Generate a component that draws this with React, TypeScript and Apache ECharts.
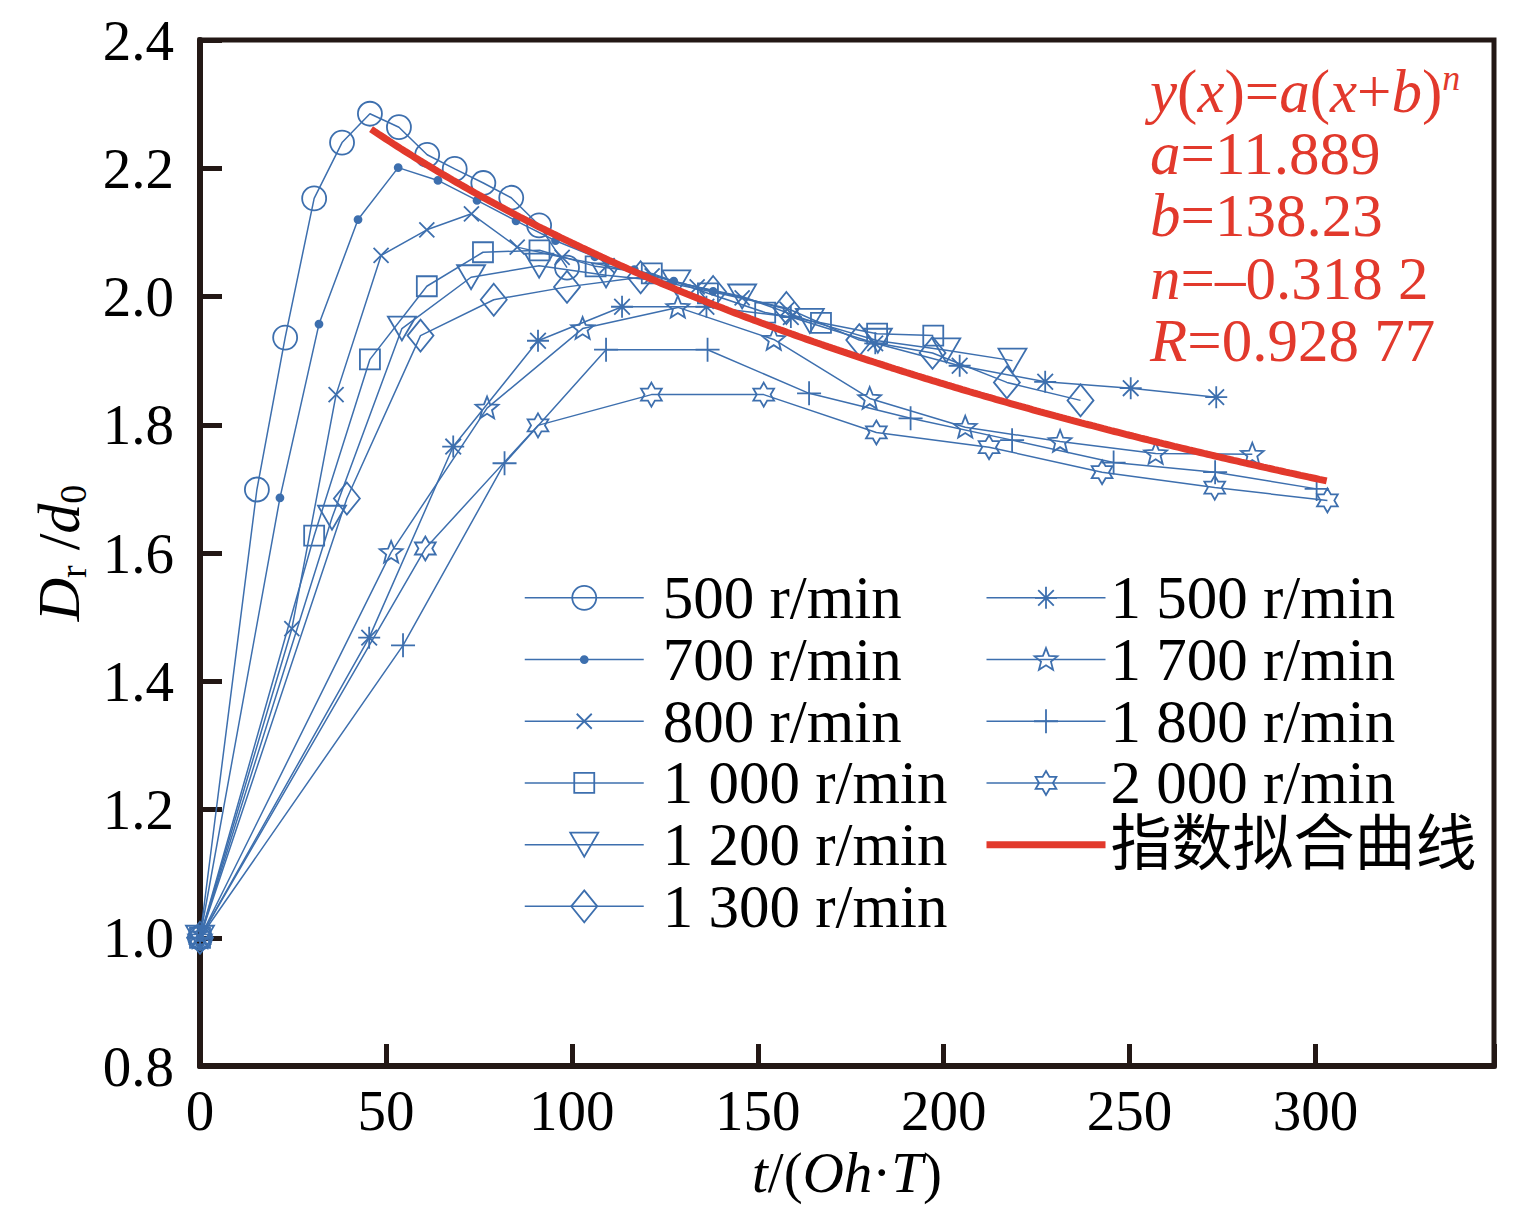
import React, { useEffect, useRef } from "react";
import * as echarts from "echarts";

// Measured droplet spread ratio D_r/d0 against dimensionless time t/(Oh·T)
const x500 = [0, 15.3, 22.9, 30.7, 38.2, 45.7, 53.5, 61.1, 68.5, 76.2, 83.7, 91.2, 98.7];
const y500 = [1.0, 1.699, 1.936, 2.153, 2.24, 2.285, 2.264, 2.221, 2.199, 2.177, 2.154, 2.111, 2.045];

const x700 = [0, 21.5, 32.0, 42.5, 53.3, 64.0, 74.5, 85.0, 95.6, 106.2, 116.8, 127.4, 138.0];
const y700 = [1.0, 1.686, 1.957, 2.12, 2.201, 2.181, 2.15, 2.118, 2.087, 2.062, 2.042, 2.024, 2.008];

const x800 = [0, 24.7, 36.6, 48.7, 61.0, 73.0, 85.3, 97.4, 109.5, 121.6, 133.7, 145.8, 157.9];
const y800 = [1.0, 1.482, 1.847, 2.064, 2.104, 2.129, 2.077, 2.061, 2.048, 2.032, 2.015, 1.998, 1.98];

const x1000 = [0, 30.7, 45.7, 61.0, 76.1, 91.3, 106.4, 121.5, 136.6, 152.0, 167.0, 182.1, 197.2];
const y1000 = [1.0, 1.627, 1.902, 2.016, 2.069, 2.072, 2.047, 2.036, 2.005, 1.975, 1.959, 1.942, 1.939];

const x1200 = [0, 35.5, 54.3, 72.9, 91.2, 109.2, 128.1, 145.8, 164.0, 182.3, 200.7, 218.5];
const y1200 = [1.0, 1.655, 1.95, 2.03, 2.048, 2.033, 2.022, 2.0, 1.962, 1.931, 1.916, 1.9];

const x1300 = [0, 39.5, 59.3, 79.0, 98.7, 118.5, 138.0, 157.7, 177.3, 197.0, 217.0, 236.8];
const y1300 = [1.0, 1.685, 1.939, 1.995, 2.015, 2.03, 2.007, 1.982, 1.932, 1.912, 1.866, 1.838];

const x1500 = [0, 45.5, 68.1, 90.9, 113.5, 136.2, 158.9, 181.6, 204.3, 227.3, 250.3, 273.3];
const y1500 = [1.0, 1.468, 1.766, 1.931, 1.984, 1.984, 1.968, 1.927, 1.892, 1.867, 1.857, 1.843];

const x1700 = [0, 51.4, 77.2, 102.9, 128.5, 154.3, 180.1, 205.8, 231.3, 257.0, 283.0];
const y1700 = [1.0, 1.601, 1.826, 1.95, 1.983, 1.933, 1.841, 1.796, 1.774, 1.755, 1.754];

const x1800 = [0, 54.6, 81.9, 109.2, 136.5, 163.8, 191.1, 218.4, 245.7, 273.0, 300.3];
const y1800 = [1.0, 1.456, 1.74, 1.917, 1.917, 1.849, 1.81, 1.776, 1.741, 1.726, 1.7];

const x2000 = [0, 60.6, 90.9, 121.4, 151.6, 181.9, 212.2, 242.6, 272.9, 303.2];
const y2000 = [1.0, 1.607, 1.799, 1.847, 1.847, 1.788, 1.765, 1.726, 1.702, 1.682];

const seriesNames = [
  "500 r/min", "700 r/min", "800 r/min", "1 000 r/min", "1 200 r/min", "1 300 r/min",
  "1 500 r/min", "1 700 r/min", "1 800 r/min", "2 000 r/min",
];
const fitName = "指数拟合曲线";

// Power-law fit y = a (x + b)^n and its drawn range
const fitA = 11.889;
const fitB = 138.23;
const fitN = -0.3182;
const fitNText = "–0.318 2";
const fitR = "0.928 77";
const fitRange = [46, 303];

const xTicks = [0, 50, 100, 150, 200, 250, 300];

const BLUE = "#3d6fae";
const RED = "#e2392c";
const AXIS = "#231815";
const SERIF = "'Liberation Serif', 'Times New Roman', 'Noto Sans CJK SC', serif";

// Marker outlines drawn in a 34x34 box so legend and plot share one size
const BOX = "M0,0M34,34";
const symCircle = `path://${BOX}M29,17A12,12,0,1,1,5,17A12,12,0,1,1,29,17Z`;
const symDot = `path://${BOX}M20.5,17A3.5,3.5,0,1,1,13.5,17A3.5,3.5,0,1,1,20.5,17Z`;
const symCross = `path://${BOX}M9.5,9.5L24.5,24.5M24.5,9.5L9.5,24.5`;
const symSquare = `path://${BOX}M7,7L27,7L27,27L7,27Z`;
const symTriDown = `path://${BOX}M3,5L31,5L17,29Z`;
const symDiamond = `path://${BOX}M17,1L30,17L17,33L4,17Z`;
const symAsterisk = `path://${BOX}M17,6L17,28M6,17L28,17M9.2,9.2L24.8,24.8M24.8,9.2L9.2,24.8`;
const symStar5 = `path://${BOX}M17,5.5L20.06,13.29L28.41,13.79L21.95,19.11L24.05,27.21L17,22.7L9.95,27.21L12.05,19.11L5.59,13.79L13.94,13.29Z`;
const symPlus = `path://${BOX}M17,5L17,29M5,17L29,17`;
const symStar6 = `path://${BOX}M17,5L20.46,11L27.39,11L23.93,17L27.39,23L20.46,23L17,29L13.54,23L6.61,23L10.07,17L6.61,11L13.54,11Z`;
const symNone = "path://M0,0M1,1";

const App: React.FC = () => {
  const ref = useRef<HTMLDivElement>(null);

  useEffect(() => {
    if (!ref.current) return;
    const chart = echarts.init(ref.current, undefined, { renderer: "svg" });

    const groups = [
      { x: x500, y: y500, sym: symCircle, filled: false },
      { x: x700, y: y700, sym: symDot, filled: true },
      { x: x800, y: y800, sym: symCross, filled: false },
      { x: x1000, y: y1000, sym: symSquare, filled: false },
      { x: x1200, y: y1200, sym: symTriDown, filled: false },
      { x: x1300, y: y1300, sym: symDiamond, filled: false },
      { x: x1500, y: y1500, sym: symAsterisk, filled: false },
      { x: x1700, y: y1700, sym: symStar5, filled: false },
      { x: x1800, y: y1800, sym: symPlus, filled: false },
      { x: x2000, y: y2000, sym: symStar6, filled: false },
    ];

    const dataSeries = groups.map((g, i) => ({
      name: seriesNames[i],
      type: "line",
      data: g.x.map((xv, k) => [xv, g.y[k]]),
      symbol: g.sym,
      symbolSize: 34,
      showSymbol: true,
      clip: false,
      lineStyle: { color: BLUE, width: 1.5 },
      itemStyle: {
        color: g.filled ? BLUE : "rgba(0,0,0,0)",
        borderColor: BLUE,
        borderWidth: 1.8,
      },
      emphasis: { disabled: true },
      z: 2,
    }));

    const fitData: number[][] = [];
    for (let xv = fitRange[0]; xv <= fitRange[1]; xv += 1) {
      fitData.push([xv, fitA * Math.pow(xv + fitB, fitN)]);
    }

    const fitSeries = {
      name: fitName,
      type: "line",
      data: fitData,
      symbol: symNone,
      showSymbol: false,
      lineStyle: { color: RED, width: 7 },
      itemStyle: { color: "rgba(0,0,0,0)" },
      emphasis: { disabled: true },
      z: 5,
    };

    const legendText = {
      fontFamily: SERIF,
      fontSize: 61,
      color: "#000",
      lineHeight: 61.7,
    };

    const legendItem = (name: string, idx: number) => ({
      name,
      itemStyle: {
        color: groups[idx].filled ? BLUE : "rgba(0,0,0,0)",
        borderColor: BLUE,
        borderWidth: 1.8,
      },
      lineStyle: { color: BLUE, width: 1.5 },
    });

    const legendBase = {
      orient: "vertical",
      top: 567,
      itemWidth: 119,
      itemHeight: 42.5,
      itemGap: 0,
      padding: 0,
      selectedMode: false,
      inactiveColor: BLUE,
    };

    const option: any = {
      animation: false,
      backgroundColor: "#fff",
      grid: {
        left: 200,
        right: 31,
        top: 40,
        bottom: 153,
        show: true,
        borderColor: AXIS,
        borderWidth: 5,
        backgroundColor: "rgba(0,0,0,0)",
      },
      xAxis: {
        type: "value",
        min: 0,
        max: 348,
        interval: 50,
        splitLine: { show: false },
        axisLine: { show: true, lineStyle: { color: AXIS, width: 6 } },
        axisTick: { show: true, inside: true, length: 22, lineStyle: { color: AXIS, width: 5 } },
        axisLabel: {
          margin: 16,
          fontFamily: SERIF,
          fontSize: 57,
          color: "#000",
          formatter: (v: number) => (xTicks.indexOf(v) >= 0 ? String(v) : ""),
        },
        name: "{i|t}/({i|Oh}·{i|T})",
        nameLocation: "middle",
        nameGap: 76,
        nameTextStyle: {
          fontFamily: SERIF,
          fontSize: 57,
          color: "#000",
          rich: {
            i: { fontFamily: SERIF, fontSize: 57, fontStyle: "italic", color: "#000" },
          },
        },
      },
      yAxis: {
        type: "value",
        min: 0.8,
        max: 2.4,
        interval: 0.2,
        splitLine: { show: false },
        axisLine: { show: true, lineStyle: { color: AXIS, width: 6 } },
        axisTick: { show: true, inside: true, length: 22, lineStyle: { color: AXIS, width: 5 } },
        axisLabel: {
          margin: 26,
          fontFamily: SERIF,
          fontSize: 57,
          color: "#000",
          formatter: (v: number) => v.toFixed(1),
        },
        name: "{i|D}{s|r}{n| /}{i|d}{s|0}",
        nameLocation: "middle",
        nameGap: 108,
        nameTextStyle: {
          fontFamily: SERIF,
          fontSize: 60,
          color: "#000",
          rich: {
            i: { fontFamily: SERIF, fontSize: 60, fontStyle: "italic", color: "#000", lineHeight: 66 },
            n: { fontFamily: SERIF, fontSize: 60, color: "#000", lineHeight: 66 },
            s: { fontFamily: SERIF, fontSize: 38, color: "#000", verticalAlign: "bottom", lineHeight: 66 },
          },
        },
      },
      legend: [
        {
          ...legendBase,
          left: 524,
          data: seriesNames.slice(0, 6).map((n, i) => legendItem(n, i)),
          textStyle: { ...legendText, padding: [0, 0, 0, 14] },
        },
        {
          ...legendBase,
          left: 983,
          data: [
            ...seriesNames.slice(6).map((n, i) => legendItem(n, i + 6)),
            {
              name: fitName,
              itemStyle: { color: "rgba(0,0,0,0)", borderWidth: 0 },
              lineStyle: { color: RED, width: 7 },
            },
          ],
          textStyle: { ...legendText, padding: [0, 0, 0, 0] },
        },
      ],
      graphic: [
        {
          type: "text",
          left: 1150,
          top: 60,
          z: 100,
          style: {
            text: [
              "{i|y}({i|x})={i|a}({i|x}+{i|b}){sup|n}",
              `{i|a}=${fitA}`,
              `{i|b}=${fitB}`,
              `{i|n}=${fitNText}`,
              `{i|R}=${fitR}`,
            ].join("\n"),
            fill: RED,
            fontFamily: SERIF,
            fontSize: 61,
            lineHeight: 62.3,
            rich: {
              i: { fontFamily: SERIF, fontSize: 61, fontStyle: "italic", fill: RED, lineHeight: 62.3 },
              sup: { fontFamily: SERIF, fontSize: 36, fontStyle: "italic", fill: RED, verticalAlign: "top", lineHeight: 50 },
            },
          },
        },
      ],
      series: [...dataSeries, fitSeries],
    };

    chart.setOption(option);
    return () => chart.dispose();
  }, []);

  return (
    <div
      ref={ref}
      style={{ position: "fixed", left: 0, top: 0, width: 1525, height: 1219, background: "#fff" }}
    />
  );
};

export default App;
